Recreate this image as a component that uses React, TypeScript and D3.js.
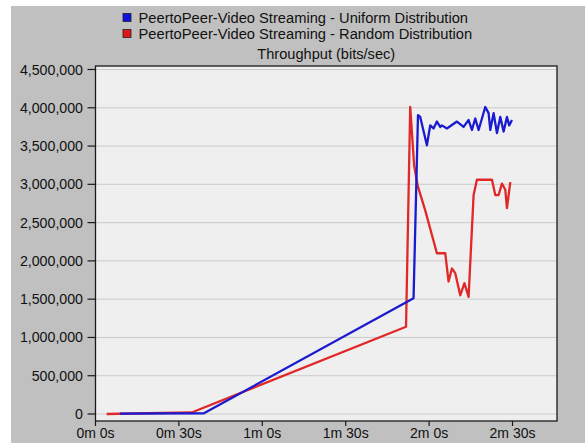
import React from "react";
import * as d3 from "d3";

// Time in seconds, throughput in bits/sec
const uniformTimes = [8.75, 39, 114.4, 116.0, 116.8, 119.2, 120.4, 121.6, 122.8, 124.0, 124.6, 126.4, 130.0, 132.4, 134.2, 135.4, 136.6, 137.8, 140.2, 141.4, 142.0, 143.2, 144.4, 145.6, 146.8, 148.0, 148.8, 149.8];
const uniformValues = [5000, 10000, 1511000, 3905000, 3880000, 3510000, 3770000, 3730000, 3820000, 3750000, 3770000, 3730000, 3820000, 3750000, 3840000, 3710000, 3860000, 3710000, 4010000, 3930000, 3710000, 3930000, 3670000, 3880000, 3690000, 3880000, 3770000, 3840000];

const randomTimes = [4, 34.6, 111.7, 113.2, 114.6, 115.9, 118.6, 122.8, 125.8, 127.0, 128.2, 129.4, 131.2, 132.7, 134.2, 136.0, 137.2, 142.6, 143.8, 145.0, 146.2, 147.4, 148.0, 149.2];
const randomValues = [0, 20000, 1140000, 4010000, 3250000, 2980000, 2660000, 2100000, 2100000, 1730000, 1900000, 1840000, 1550000, 1710000, 1530000, 2860000, 3060000, 3060000, 2860000, 2860000, 3010000, 2930000, 2690000, 3030000];

const seriesNames = [
  "PeertoPeer-Video Streaming - Uniform Distribution",
  "PeertoPeer-Video Streaming - Random Distribution",
];
const seriesColors = ["#1a1ad0", "#e02828"];
const legendSwatch = ["#1010e0", "#e01818"];

const chartTitle = "Throughput (bits/sec)";
const yTicks = [0, 500000, 1000000, 1500000, 2000000, 2500000, 3000000, 3500000, 4000000, 4500000];
const xTicks = [0, 30, 60, 90, 120, 150];
const xTickLabels = ["0m 0s", "0m 30s", "1m 0s", "1m 30s", "2m 0s", "2m 30s"];

const W = 585;
const H = 446;
const FONT = "'Liberation Sans', Arial, sans-serif";

export default function App() {
  const frame = { left: 95.5, right: 557, top: 66, bottom: 421 };
  const x = d3.scaleLinear().domain([0, 166]).range([frame.left, frame.right]);
  const y = d3.scaleLinear().domain([0, 4500000]).range([414, 69.5]);

  const line = d3
    .line<[number, number]>()
    .x((d) => x(d[0]))
    .y((d) => y(d[1]));

  const uniform: [number, number][] = uniformTimes.map((t, i) => [t, uniformValues[i]]);
  const random: [number, number][] = randomTimes.map((t, i) => [t, randomValues[i]]);
  const fmt = d3.format(",");

  return (
    <svg
      width={W}
      height={H}
      style={{ position: "absolute", left: 0, top: 0, background: "#ffffff" }}
      fontFamily={FONT}
    >
      <rect x={11} y={6} width={W - 11} height={437} fill="#c0c0c0" />
      {/* legend */}
      {seriesNames.map((name, i) => (
        <g key={name}>
          <rect
            x={123}
            y={13.5 + i * 16}
            width={8}
            height={8}
            fill={legendSwatch[i]}
            stroke="#202020"
            strokeWidth={0.8}
          />
          <text x={138.5} y={22.5 + i * 16} fontSize={14.7} fill="#111">
            {name}
          </text>
        </g>
      ))}
      <text x={(frame.left + frame.right) / 2} y={59} fontSize={14.6} textAnchor="middle" fill="#111">
        {chartTitle}
      </text>
      {/* plot area */}
      <rect
        x={frame.left}
        y={frame.top}
        width={frame.right - frame.left}
        height={frame.bottom - frame.top}
        fill="#efefef"
      />
      {yTicks.map((v) => (
        <line
          key={"g" + v}
          x1={frame.left}
          x2={frame.right}
          y1={y(v)}
          y2={y(v)}
          stroke="#cbcbcb"
          strokeWidth={1}
        />
      ))}
      <path d={line(random) || ""} fill="none" stroke={seriesColors[1]} strokeWidth={2.3} strokeLinejoin="round" />
      <path d={line(uniform) || ""} fill="none" stroke={seriesColors[0]} strokeWidth={2.3} strokeLinejoin="round" />
      <rect
        x={frame.left}
        y={frame.top}
        width={frame.right - frame.left}
        height={frame.bottom - frame.top}
        fill="none"
        stroke="#1a1a1a"
        strokeWidth={1.3}
      />
      {/* y axis */}
      {yTicks.map((v) => (
        <g key={"y" + v}>
          <line x1={frame.left - 8} x2={frame.left} y1={y(v)} y2={y(v)} stroke="#1a1a1a" strokeWidth={1.2} />
          <text x={83} y={y(v) + 5} fontSize={14.2} textAnchor="end" fill="#111">
            {fmt(v)}
          </text>
        </g>
      ))}
      {/* x axis */}
      {xTicks.map((t, i) => (
        <g key={"x" + t}>
          <line x1={x(t)} x2={x(t)} y1={frame.bottom} y2={frame.bottom + 5} stroke="#1a1a1a" strokeWidth={1.2} />
          <text x={x(t)} y={438} fontSize={14} textAnchor="middle" fill="#111">
            {xTickLabels[i]}
          </text>
        </g>
      ))}
    </svg>
  );
}
